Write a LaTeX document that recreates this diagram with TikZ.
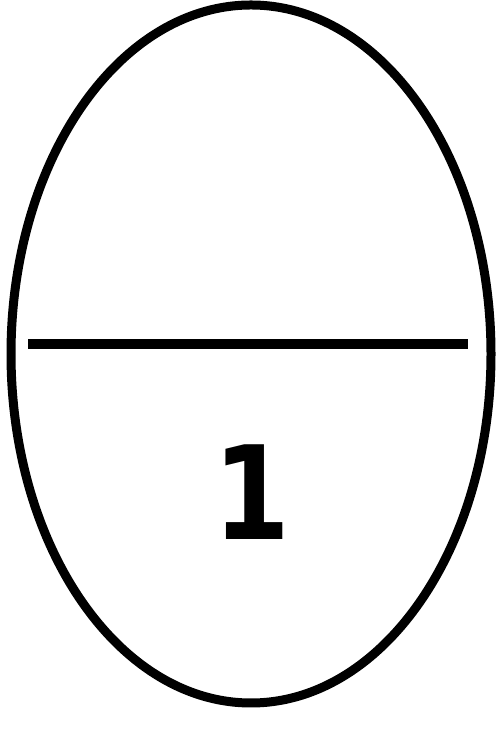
\documentclass[tikz,border=0pt]{standalone}
\usepackage{fontspec}
\setmainfont{DejaVu Sans}
\usepackage{tikz}
\usetikzlibrary{positioning}

\begin{document}
\begin{tikzpicture}[x=1pt, y=1pt]
  \useasboundingbox (0,0) rectangle (499,730);
  % outline and dividing bar
  \draw[line width=9pt] (251,376) ellipse [x radius=240, y radius=349];
  \coordinate (barleft) at (28,386);
  \coordinate (barright) at (468,386);
  \draw[line width=10pt] (barleft) -- (barright);
  \node[inner sep=0pt, xscale=0.85, font=\fontsize{130}{140}\selectfont\bfseries]
    (count) at (252,238) {1};
\end{tikzpicture}
\end{document}
